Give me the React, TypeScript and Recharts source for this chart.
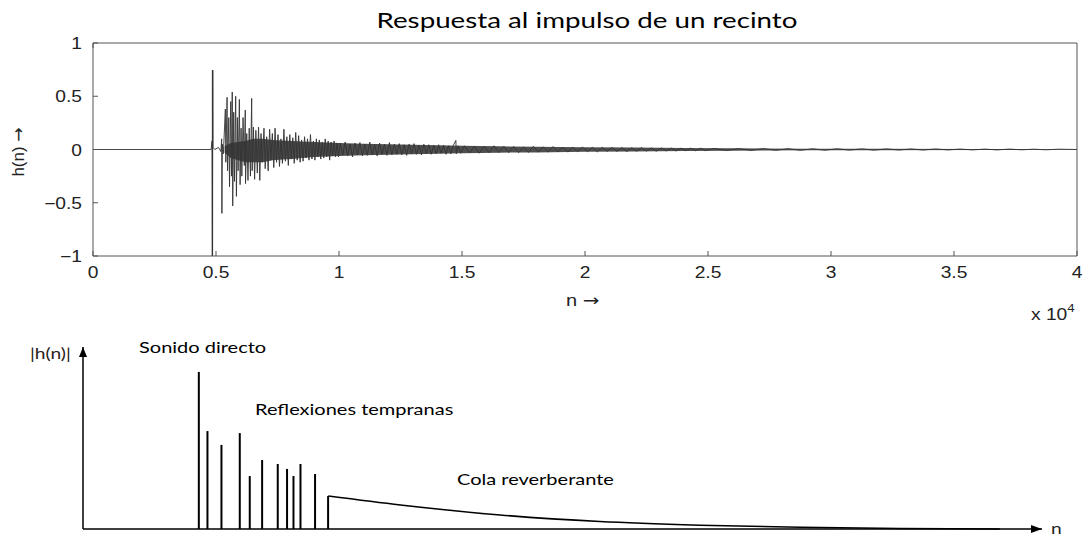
import { ComposedChart, Line, Bar, Area, XAxis, YAxis, ReferenceDot } from 'recharts'

// ---- top plot: measured room impulse response, [n, h(n)] ----
const nTicks = [0, 5000, 10000, 15000, 20000, 25000, 30000, 35000, 40000]
const hTicks = [-1, -0.5, 0, 0.5, 1]

const silence = [[0, 0], [4800, 0]]

const directSound = [
  [4840, 0.08], [4850, -1], [4855, 0.745], [4860, -1], [4870, 0.745], [4880, 0.02], [4950, 0],
  [5100, 0.02], [5200, -0.02], [5230, 0.1], [5240, -0.6], [5260, 0.05], [5300, -0.04],
]

const earlyReflections = [
  [5380, 0.38], [5400, -0.12], [5450, 0.49], [5470, -0.2], [5520, 0.3], [5550, -0.35],
  [5600, 0.45], [5630, -0.25], [5660, 0.54], [5680, -0.53], [5720, 0.35], [5750, -0.3],
  [5800, 0.5], [5830, -0.44], [5870, 0.3], [5900, -0.2], [5950, 0.47], [5980, -0.33],
  [6020, 0.2], [6050, -0.25], [6100, 0.3], [6150, -0.15], [6190, 0.37], [6200, -0.32],
  [6250, 0.15], [6300, -0.29], [6350, 0.2], [6400, -0.25], [6450, 0.48], [6470, -0.2],
  [6520, 0.21], [6570, -0.28], [6620, 0.18], [6680, -0.22], [6730, 0.21], [6780, -0.29],
  [6830, 0.15], [6880, -0.12],
]

const denseTail = [
  [6950, 0.2], [7000, -0.18], [7060, 0.12], [7120, -0.2], [7180, 0.19], [7230, -0.1],
  [7290, 0.15], [7350, -0.17], [7400, 0.2], [7460, -0.12], [7520, 0.14], [7580, -0.16],
  [7640, 0.1], [7700, -0.13], [7760, 0.19], [7820, -0.11], [7880, 0.12], [7940, -0.15],
  [8000, 0.14], [8060, -0.09], [8120, 0.11], [8180, -0.13], [8240, 0.16], [8300, -0.1],
  [8360, 0.13], [8420, -0.12], [8480, 0.09], [8540, -0.11], [8600, 0.12], [8660, -0.08],
  [8720, 0.1], [8780, -0.1], [8840, 0.14], [8900, -0.09], [8960, 0.08], [9020, -0.1],
  [9080, 0.1], [9140, -0.07], [9200, 0.09], [9260, -0.09], [9320, 0.07], [9380, -0.08],
  [9440, 0.1], [9500, -0.07], [9560, 0.08], [9620, -0.1], [9680, 0.07], [9740, -0.06],
  [9800, 0.08], [9860, -0.07], [9920, 0.06], [9980, -0.07],
]

const midTail = [
  [10050, 0.06], [10150, -0.05], [10250, 0.07], [10350, -0.06], [10450, 0.05], [10550, -0.07],
  [10650, 0.06], [10750, -0.05], [10850, 0.065], [10950, -0.06], [11050, 0.05], [11150, -0.055],
  [11250, 0.07], [11350, -0.05], [11450, 0.045], [11550, -0.06], [11650, 0.06], [11750, -0.045],
  [11850, 0.05], [11950, -0.055], [12050, 0.065], [12150, -0.05], [12250, 0.05], [12350, -0.045],
  [12450, 0.055], [12550, -0.05], [12650, 0.045], [12750, -0.055], [12850, 0.05], [12950, -0.04],
  [13050, 0.055], [13150, -0.045], [13250, 0.04], [13350, -0.05], [13450, 0.05], [13550, -0.04],
  [13650, 0.045], [13750, -0.045], [13850, 0.04], [13950, -0.04], [14050, 0.045], [14150, -0.035],
  [14250, 0.04], [14350, -0.045], [14450, 0.035], [14550, -0.04], [14650, 0.04], [14750, 0.085],
  [14770, -0.04], [14850, 0.035], [14950, -0.035],
]

const lateTail = [
  [15100, 0.035], [15300, -0.03], [15500, 0.03], [15700, -0.035], [15900, 0.03], [16100, -0.03],
  [16300, 0.035], [16500, -0.028], [16700, 0.03], [16900, -0.03], [17100, 0.028], [17300, -0.03],
  [17500, 0.025], [17700, -0.028], [17900, 0.03], [18100, -0.025], [18300, 0.025], [18500, -0.025],
  [18700, 0.028], [18900, -0.022], [19100, 0.022], [19300, -0.025], [19500, 0.022], [19700, -0.02],
  [19900, 0.022], [20100, -0.02], [20300, 0.02], [20500, -0.022], [20700, 0.02], [20900, -0.018],
  [21100, 0.02], [21300, -0.018], [21500, 0.018], [21700, -0.02], [21900, 0.016], [22100, -0.016],
  [22300, 0.018], [22500, -0.015], [22700, 0.015], [22900, -0.016], [23100, 0.015], [23300, -0.014],
  [23500, 0.014], [23700, -0.014], [23900, 0.013], [24100, -0.012], [24300, 0.013], [24500, -0.012],
  [24700, 0.012], [24900, -0.011],
]

const fadeOut = [
  [25250, 0.01], [25750, -0.01], [26250, 0.009], [26750, -0.009], [27250, 0.009], [27750, -0.008],
  [28250, 0.008], [28750, -0.008], [29250, 0.007], [29750, -0.007], [30250, 0.007], [30750, -0.006],
  [31250, 0.006], [31750, -0.006], [32250, 0.006], [32750, -0.005], [33250, 0.005], [33750, -0.005],
  [34250, 0.005], [34750, -0.004], [35250, 0.004], [35750, -0.004], [36250, 0.004], [36750, -0.004],
  [37250, 0.004], [37750, -0.003], [38250, 0.003], [38750, -0.003], [39250, 0.003], [40000, 0],
]

// envelope of the dense reverberant noise (too dense to trace sample by sample)
const envN = [5350, 5600, 5900, 6200, 6500, 6900, 7300, 7700, 8100, 8500, 9000, 9500, 10000,
  11000, 12000, 13000, 14000, 15000, 16500, 18000, 20000, 22000, 24000, 26000, 29000, 32000, 36000, 40000]
const envHi = [0.03, 0.06, 0.07, 0.08, 0.1, 0.1, 0.09, 0.085, 0.08, 0.075, 0.07, 0.065, 0.06,
  0.055, 0.05, 0.045, 0.04, 0.035, 0.03, 0.027, 0.022, 0.018, 0.014, 0.011, 0.008, 0.006, 0.004, 0.003]
const envLo = [-0.03, -0.08, -0.1, -0.12, -0.12, -0.12, -0.1, -0.095, -0.09, -0.08, -0.07, -0.065, -0.06,
  -0.055, -0.05, -0.045, -0.04, -0.035, -0.03, -0.027, -0.022, -0.018, -0.014, -0.011, -0.008, -0.006, -0.004, -0.003]

// ---- bottom plot: schematic |h(n)| ----
const reflectionPos = [12.1, 13.0, 14.46, 16.37, 17.41, 18.7, 20.33, 21.3, 21.97, 22.7, 24.22, 25.58]
const reflectionAmp = [86.3, 53.8, 46.2, 52.7, 29.1, 37.9, 35.7, 33, 29.1, 35.7, 30.2, 18.1]
const tailPos = [25.58, 33.1, 43.5, 53.9, 64.3, 74.8, 85.2, 95.6]
const tailAmp = [18.1, 13.2, 7.7, 4.1, 2.1, 0.9, 0.3, 0.05]

const response = [...silence, ...directSound, ...earlyReflections, ...denseTail, ...midTail, ...lateTail, ...fadeOut]
  .map(([n, h]) => ({ n, h }))
const envelope = envN.map((n, i) => ({ n, band: [envLo[i], envHi[i]] }))

const stems = reflectionPos.map((u, i) => ({ u, amp: reflectionAmp[i] }))
const tail = tailPos.map((u, i) => ({ u, amp: tailAmp[i] }))

const axisGray = '#555'
const tickText = { fontSize: 16, fill: '#222', fontFamily: 'Liberation Sans, Arial, sans-serif' }
const fmtN = (v: number) => String(v / 10000)
const fmtH = (v: number) => String(v).replace('-', '\u2212')

// MATLAB-style inward ticks, labels slightly widened like the source image
const BottomTick = ({ x, y, payload }: any) => (
  <g>
    <line x1={x} y1={y} x2={x} y2={y - 5} stroke={axisGray} />
    <text transform={`translate(${x},${y + 22}) scale(1.2,1)`} textAnchor="middle" {...tickText}>
      {fmtN(payload.value)}
    </text>
  </g>
)
const LeftTick = ({ x, y, payload }: any) => (
  <g>
    <line x1={x} y1={y} x2={x + 5} y2={y} stroke={axisGray} />
    <text transform={`translate(${x - 11},${y + 6}) scale(1.2,1)`} textAnchor="end" {...tickText}>
      {fmtH(payload.value)}
    </text>
  </g>
)
const TopTick = ({ x, y }: any) => <line x1={x} y1={y} x2={x} y2={y + 5} stroke={axisGray} />
const RightTick = ({ x, y }: any) => <line x1={x} y1={y} x2={x - 5} y2={y} stroke={axisGray} />

const label = (extra: React.CSSProperties): React.CSSProperties => ({
  position: 'absolute',
  whiteSpace: 'nowrap',
  lineHeight: 1,
  transformOrigin: 'left center',
  ...extra,
})

export default function App() {
  const frame = { stroke: axisGray, strokeWidth: 1 }
  return (
    <div style={{ position: 'absolute', left: 0, top: 0, width: 1089, height: 538, background: '#fff', overflow: 'hidden' }}>
      <div style={label({ left: 287, width: 600, top: 9, textAlign: 'center', fontFamily: 'Lato', fontSize: 22, color: '#000', transform: 'scaleX(1.26)', transformOrigin: 'center' })}>
        Respuesta al impulso de un recinto
      </div>

      {/* measured response */}
      <div style={{ position: 'absolute', left: 0, top: 0 }}>
        <ComposedChart width={1089} height={330} data={response} margin={{ top: 42, right: 11, bottom: 44, left: 0 }}>
          <XAxis
            dataKey="n"
            type="number"
            domain={[0, 40000]}
            ticks={nTicks}
            height={30}
            tickSize={0}
            tickMargin={0}
            tickLine={false}
            axisLine={frame}
            tick={<BottomTick />}
            interval={0}
          />
          <XAxis
            xAxisId="top"
            orientation="top"
            type="number"
            domain={[0, 40000]}
            ticks={nTicks}
            height={1}
            tickSize={0}
            tickMargin={0}
            tickLine={false}
            axisLine={frame}
            tick={<TopTick />}
            interval={0}
          />
          <YAxis
            type="number"
            domain={[-1, 1]}
            ticks={hTicks}
            width={93}
            tickSize={0}
            tickMargin={0}
            tickLine={false}
            axisLine={frame}
            tick={<LeftTick />}
            interval={0}
          />
          <YAxis
            yAxisId="right"
            orientation="right"
            type="number"
            domain={[-1, 1]}
            ticks={hTicks}
            width={1}
            tickSize={0}
            tickMargin={0}
            tickLine={false}
            axisLine={frame}
            tick={<RightTick />}
            interval={0}
          />
          <Area
            data={envelope}
            dataKey="band"
            type="linear"
            stroke="none"
            fill="#3c3c3c"
            fillOpacity={0.9}
            isAnimationActive={false}
          />
          <Line
            dataKey="h"
            type="linear"
            stroke="#333"
            strokeWidth={0.9}
            dot={false}
            isAnimationActive={false}
          />
        </ComposedChart>
      </div>
      <div style={label({ left: 18, top: 152, fontFamily: 'Liberation Sans', fontSize: 17, color: '#222', transform: 'translate(-50%, -50%) rotate(-90deg)', transformOrigin: 'center' })}>
        h(n) <span style={{ fontFamily: 'DejaVu Sans' }}>{'\u2192'}</span>
      </div>
      <div style={label({ left: 566, top: 293, fontFamily: 'Liberation Sans', fontSize: 16, color: '#222', transform: 'scaleX(1.25)' })}>
        n <span style={{ fontFamily: 'DejaVu Sans' }}>{'\u2192'}</span>
      </div>
      <div style={label({ left: 1031, top: 307, fontFamily: 'Liberation Sans', fontSize: 16, color: '#222', transform: 'scaleX(1.2)' })}>
        x 10<sup style={{ fontSize: 11, verticalAlign: 'top', position: 'relative', top: -4 }}>4</sup>
      </div>

      {/* schematic |h(n)| */}
      <div style={{ position: 'absolute', left: 0, top: 330 }}>
        <ComposedChart width={1089} height={208} data={stems} margin={{ top: 17, right: 47, bottom: 8, left: 82 }}>
          <XAxis
            dataKey="u"
            type="number"
            domain={[0, 100]}
            height={1}
            tick={false}
            tickLine={false}
            axisLine={{ stroke: '#000', strokeWidth: 1.5 }}
          />
          <YAxis
            type="number"
            domain={[0, 100]}
            width={1}
            tick={false}
            tickLine={false}
            axisLine={{ stroke: '#000', strokeWidth: 1.5 }}
          />
          <Bar dataKey="amp" barSize={2} fill="#000" isAnimationActive={false} />
          <Line
            data={tail}
            dataKey="amp"
            type="monotone"
            stroke="#000"
            strokeWidth={1.5}
            dot={false}
            isAnimationActive={false}
          />
          <ReferenceDot
            x={0}
            y={100}
            r={0}
            shape={(p: any) => (
              <polygon points={`${p.cx},${p.cy} ${p.cx - 4},${p.cy + 10} ${p.cx + 4},${p.cy + 10}`} fill="#000" />
            )}
          />
          <ReferenceDot
            x={100}
            y={0}
            r={0}
            shape={(p: any) => (
              <polygon points={`${p.cx},${p.cy} ${p.cx - 11},${p.cy - 4} ${p.cx - 11},${p.cy + 4}`} fill="#000" />
            )}
          />
        </ComposedChart>
      </div>
      <div style={label({ left: 30, top: 345, fontFamily: 'Lato', fontSize: 16, color: '#2a2118', transform: 'scaleX(1.2)' })}>|h(n)|</div>
      <div style={label({ left: 1051, top: 520, fontFamily: 'Lato', fontSize: 16, color: '#222', transform: 'scaleX(1.2)' })}>n</div>
      <div style={label({ left: 139, top: 339, fontFamily: 'Lato', fontSize: 16, color: '#000', transform: 'scaleX(1.25)' })}>Sonido directo</div>
      <div style={label({ left: 255, top: 401, fontFamily: 'Lato', fontSize: 16, color: '#000', transform: 'scaleX(1.25)' })}>Reflexiones tempranas</div>
      <div style={label({ left: 457, top: 471, fontFamily: 'Lato', fontSize: 16, color: '#000', transform: 'scaleX(1.25)' })}>Cola reverberante</div>
    </div>
  )
}
